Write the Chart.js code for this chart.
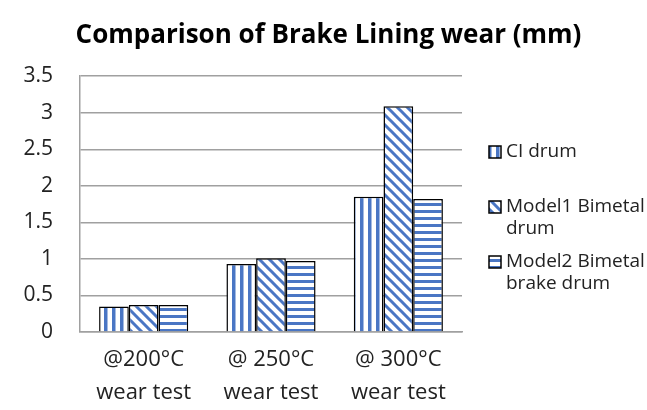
<!DOCTYPE html>
<html>
<head>
<meta charset="utf-8">
<script src="https://cdn.jsdelivr.net/npm/chart.js@4/dist/chart.umd.min.js"></script>
<style>
  html, body { margin: 0; padding: 0; background: #fff; }
  #wrap { width: 647px; height: 410px; }
</style>
</head>
<body>
<div id="wrap"><canvas id="barChart" width="647" height="410"></canvas></div>
<script>
// categories and series
var categories = [['@200°C', 'wear test'], ['@ 250°C', 'wear test'], ['@ 300°C', 'wear test']];
var ciDrum = [0.35, 0.93, 1.85];
var model1Drum = [0.37, 1.01, 3.09];
var model2Drum = [0.37, 0.97, 1.82];
var seriesNames = ['CI drum', 'Model1 Bimetal drum', 'Model2 Bimetal brake drum'];
var legendLines = [['CI drum'], ['Model1 Bimetal', 'drum'], ['Model2 Bimetal', 'brake drum']];
var yTicks = [0, 0.5, 1, 1.5, 2, 2.5, 3, 3.5];

var BLUE = '#4a76c4';
var FONT = '"Open Sans", "Liberation Sans", sans-serif';

// stripe patterns like the office hatch fills
function makePattern(kind) {
  var c = document.createElement('canvas');
  var g = c.getContext('2d');
  if (kind === 'vertical') {
    c.width = 8; c.height = 8;
    g.fillStyle = '#fff'; g.fillRect(0, 0, 8, 8);
    g.fillStyle = BLUE; g.fillRect(0, 0, 3.5, 8);
  } else if (kind === 'horizontal') {
    c.width = 8; c.height = 7;
    g.fillStyle = '#fff'; g.fillRect(0, 0, 8, 7);
    g.fillStyle = BLUE; g.fillRect(0, 0, 8, 3);
  } else {
    c.width = 10; c.height = 10;
    g.fillStyle = '#fff'; g.fillRect(0, 0, 10, 10);
    g.strokeStyle = BLUE; g.lineWidth = 3;
    g.beginPath();
    g.moveTo(-5, -5); g.lineTo(15, 15);
    g.moveTo(-15, -5); g.lineTo(5, 15);
    g.moveTo(5, -5); g.lineTo(25, 15);
    g.stroke();
  }
  return g.createPattern(c, 'repeat');
}

var fills = [makePattern('vertical'), makePattern('diagonal'), makePattern('horizontal')];

// legend on the right with wrapped labels
var sideLegend = {
  id: 'sideLegend',
  afterDraw: function (chart) {
    var ctx = chart.ctx;
    var x = chart.chartArea.right + 27;
    ctx.save();
    ctx.font = '19px ' + FONT;
    ctx.textBaseline = 'middle';
    chart.data.datasets.forEach(function (ds, i) {
      var y = 152 + i * 55;
      ctx.fillStyle = ds.backgroundColor;
      ctx.fillRect(x, y - 6, 12, 12);
      ctx.strokeStyle = '#000';
      ctx.lineWidth = 1.5;
      ctx.strokeRect(x, y - 6, 12, 12);
      ctx.fillStyle = '#222';
      legendLines[i].forEach(function (line, j) {
        ctx.fillText(line, x + 17, y + j * 22);
      });
    });
    ctx.restore();
  }
};

var barCtx = document.getElementById('barChart').getContext('2d');

var barChart = new Chart(barCtx, {
  type: 'bar',
  data: {
    labels: categories,
    datasets: [
      { label: seriesNames[0], data: ciDrum, backgroundColor: fills[0], borderColor: '#000', borderWidth: 1.5 },
      { label: seriesNames[1], data: model1Drum, backgroundColor: fills[1], borderColor: '#000', borderWidth: 1.5 },
      { label: seriesNames[2], data: model2Drum, backgroundColor: fills[2], borderColor: '#000', borderWidth: 1.5 }
    ]
  },
  options: {
    responsive: false,
    animation: false,
    categoryPercentage: 0.7,
    barPercentage: 1.0,
    layout: { padding: { left: 10, right: 0, top: 0, bottom: 0 } },
    plugins: {
      legend: { display: false },
      tooltip: { enabled: false },
      title: {
        display: true,
        text: 'Comparison of Brake Lining wear (mm)',
        color: '#000',
        font: { family: FONT, size: 26, weight: 'bold' },
        padding: { top: 20, bottom: 25 }
      }
    },
    scales: {
      y: {
        min: 0,
        max: 3.5,
        afterBuildTicks: function (axis) {
          axis.ticks = yTicks.map(function (v) { return { value: v }; });
        },
        afterFit: function (axis) { axis.width = 70; },
        ticks: {
          color: '#222',
          font: { family: FONT, size: 21 },
          padding: 27,
          callback: function (v) { return String(v); }
        },
        grid: { color: '#a0a0a0', lineWidth: 1.5, drawTicks: false },
        border: { color: '#a0a0a0', width: 1.5 }
      },
      // empty right axis only reserves room for the legend
      side: {
        type: 'linear',
        position: 'right',
        display: true,
        afterFit: function (axis) { axis.width = 185; },
        ticks: { display: false },
        grid: { display: false, drawTicks: false },
        border: { display: false }
      },
      x: {
        afterFit: function (axis) { axis.height = 78; },
        ticks: {
          color: '#222',
          font: { family: FONT, size: 22, lineHeight: 1.5 },
          padding: 3
        },
        grid: { display: false },
        border: { color: '#a0a0a0', width: 1.5 }
      }
    }
  },
  plugins: [sideLegend]
});
</script>
</body>
</html>
